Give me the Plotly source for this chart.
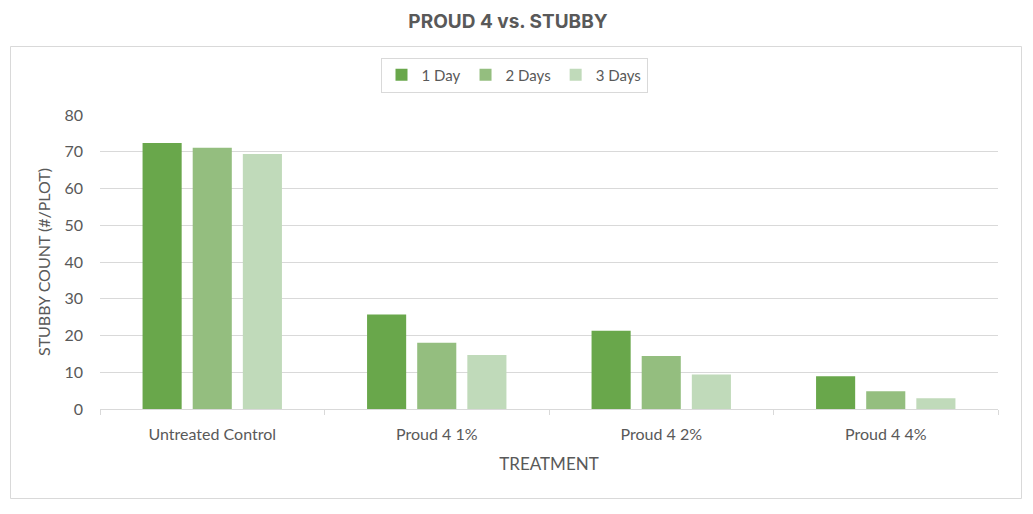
import plotly.graph_objects as go

categories = ["Untreated Control", "Proud 4 1%", "Proud 4 2%", "Proud 4 4%"]
series_names = ["1 Day", "2 Days", "3 Days"]
day1 = [72.4, 25.7, 21.3, 8.9]
day2 = [71.1, 18.0, 14.4, 4.8]
day3 = [69.4, 14.7, 9.4, 2.9]
colors = ["#69A74B", "#94BE7F", "#C0DABA"]
y_ticks = [0, 10, 20, 30, 40, 50, 60, 70, 80]

fig = go.Figure()
for name, vals, col in zip(series_names, [day1, day2, day3], colors):
    fig.add_trace(go.Bar(x=categories, y=vals, name=name, marker=dict(color=col, line=dict(width=0))))

W, H = 1033, 514
L, R, T, B = 100, 35, 115, 105
pw, ph = W - L - R, H - T - B

def px(x):
    return (x - L) / pw

def py(y):
    return (H - B - y) / ph

txt = "#595959"
fig.update_layout(
    width=W, height=H,
    margin=dict(l=L, r=R, t=T, b=B),
    paper_bgcolor="white", plot_bgcolor="white",
    barmode="group", bargap=0.33, bargroupgap=0.22,
    font=dict(family="Lato, Liberation Sans, sans-serif", size=16, color=txt),
    title=dict(text="<b>PROUD 4 vs. STUBBY</b>", x=508 / W, xref="container", xanchor="center",
               y=1 - 21 / H, yref="container", yanchor="middle",
               font=dict(family="Inter, Open Sans, sans-serif", size=19, color=txt)),
    legend=dict(orientation="h", x=px(514), xanchor="center", y=py(75), yanchor="middle",
                bordercolor="#D9D9D9", borderwidth=1, bgcolor="white",
                font=dict(size=15, color=txt), itemwidth=30, traceorder="normal"),
    showlegend=True,
    shapes=[dict(type="rect", xref="paper", yref="paper",
                 x0=px(10.5), x1=px(1021.5), y0=py(498.5), y1=py(46.5),
                 line=dict(color="#D9D9D9", width=1), fillcolor="rgba(0,0,0,0)", layer="below")],
)
fig.update_xaxes(
    showgrid=False, showline=True, linecolor="#D9D9D9", linewidth=1,
    ticks="outside", tickson="boundaries", ticklen=5, tickcolor="#D9D9D9",
    ticklabelstandoff=11,
    tickfont=dict(size=16, color=txt),
    title=dict(text="TREATMENT", font=dict(size=17, color=txt), standoff=15),
)
fig.update_yaxes(
    range=[0, 80], tickvals=y_ticks, showgrid=True, gridcolor="#D9D9D9", gridwidth=1,
    zeroline=False, showline=False, ticks="", ticklabelstandoff=16,
    tickfont=dict(size=16, color=txt),
    title=dict(text="STUBBY COUNT (#/PLOT)", font=dict(size=16, color=txt), standoff=9),
)

fig.write_html("out.html")
